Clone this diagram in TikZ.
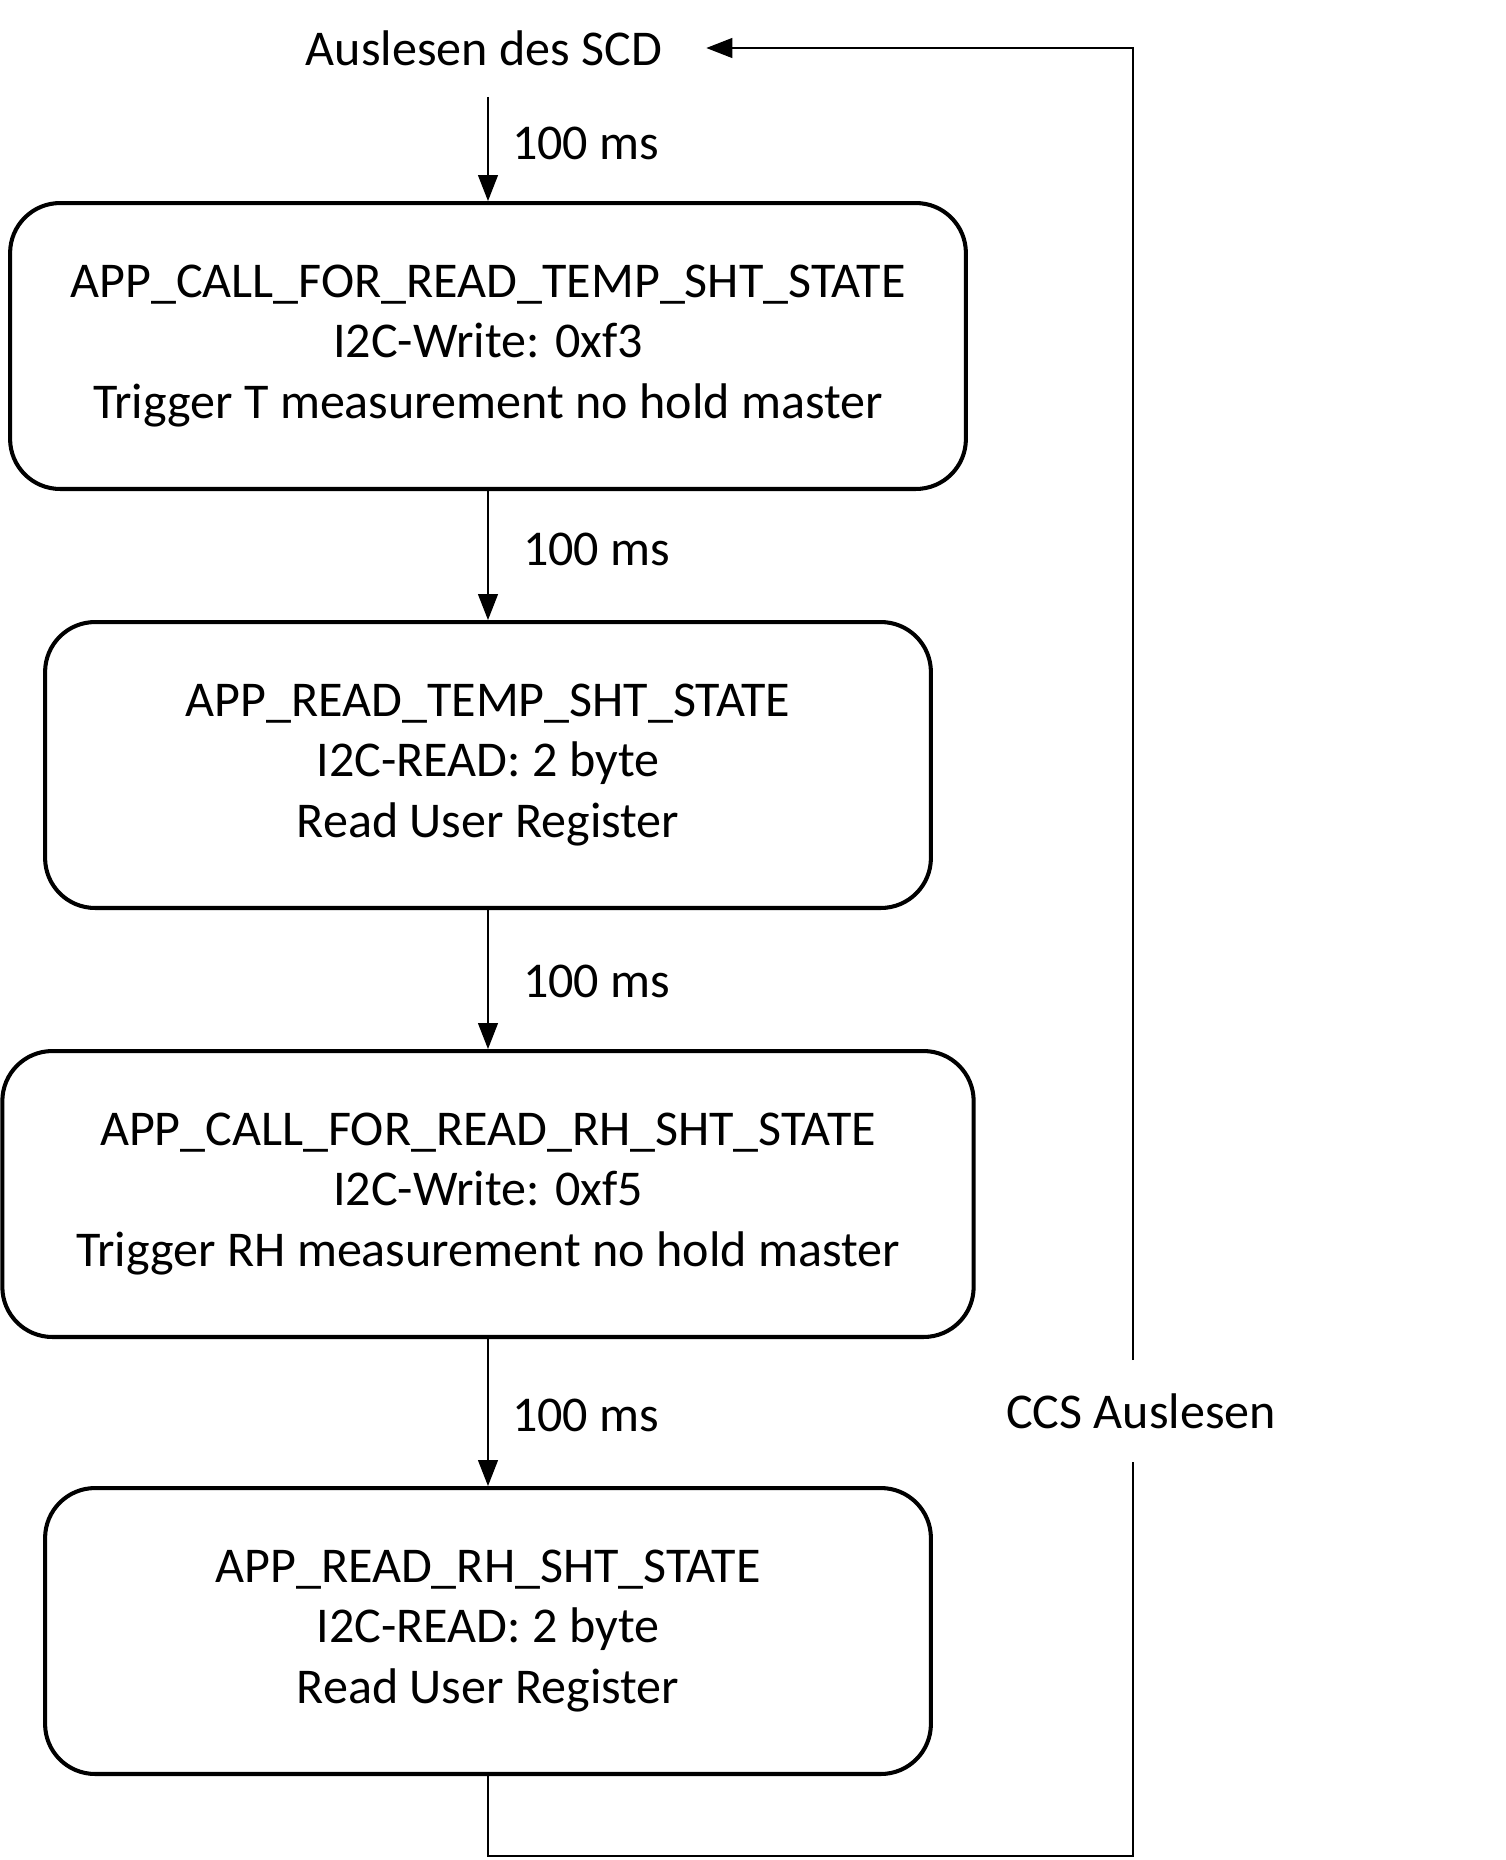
\documentclass[tikz,border=0pt]{standalone}
\usepackage{fontspec}
\setmainfont{Carlito}
\usetikzlibrary{arrows.meta}
\begin{document}
\begin{tikzpicture}[x=0.02cm,y=-0.02cm,
  every node/.style={font=\fontsize{28.5}{34.5}\selectfont},
  state/.style={draw,line width=2.3pt,rounded corners=1cm,align=center,minimum height=5.72cm},
  link/.style={line width=0.7pt},
  arr/.style={link,-{Triangle[width=0.4cm,length=0.52cm]}}]
\useasboundingbox (0,0) rectangle (1505,1860);
\node[inner xsep=0.88cm,inner ysep=0.62cm] (scd) at (484,48) {Auslesen des SCD};
\node[state,minimum width=19.12cm] (callT) at (488,346) {APP\_CALL\_FOR\_READ\_TEMP\_SHT\_STATE\\I2C-Write: 0xf3\\Trigger T measurement no hold master};
\node[state,minimum width=17.72cm] (readT) at (488,765) {APP\_READ\_TEMP\_SHT\_STATE\\I2C-READ: 2 byte\\Read User Register};
\node[state,minimum width=19.43cm] (callRH) at (488,1194) {APP\_CALL\_FOR\_READ\_RH\_SHT\_STATE\\I2C-Write: 0xf5\\Trigger RH measurement no hold master};
\node[state,minimum width=17.72cm] (readRH) at (488,1631) {APP\_READ\_RH\_SHT\_STATE\\I2C-READ: 2 byte\\Read User Register};
% delays
\node[anchor=west] (t1) at (506,143) {100 ms};
\node[anchor=west] (t2) at (517,549) {100 ms};
\node[anchor=west] (t3) at (517,981) {100 ms};
\node[anchor=west] (t4) at (506,1415) {100 ms};
\draw[arr] (scd.south -| callT.north) -- (callT.north);
\draw[arr] (callT.south) -- (readT.north);
\draw[arr] (readT.south) -- (callRH.north);
\draw[arr] (callRH.south) -- (readRH.north);
% loop back
\node[inner ysep=0.66cm] (ccs) at (1141,1411) {CCS Auslesen};
\coordinate (loop) at (1133,1856);
\draw[link] (readRH.south) |- (loop) -- (ccs.south -| loop);
\draw[arr] (ccs.north -| loop) |- (scd.east);
\end{tikzpicture}
\end{document}
